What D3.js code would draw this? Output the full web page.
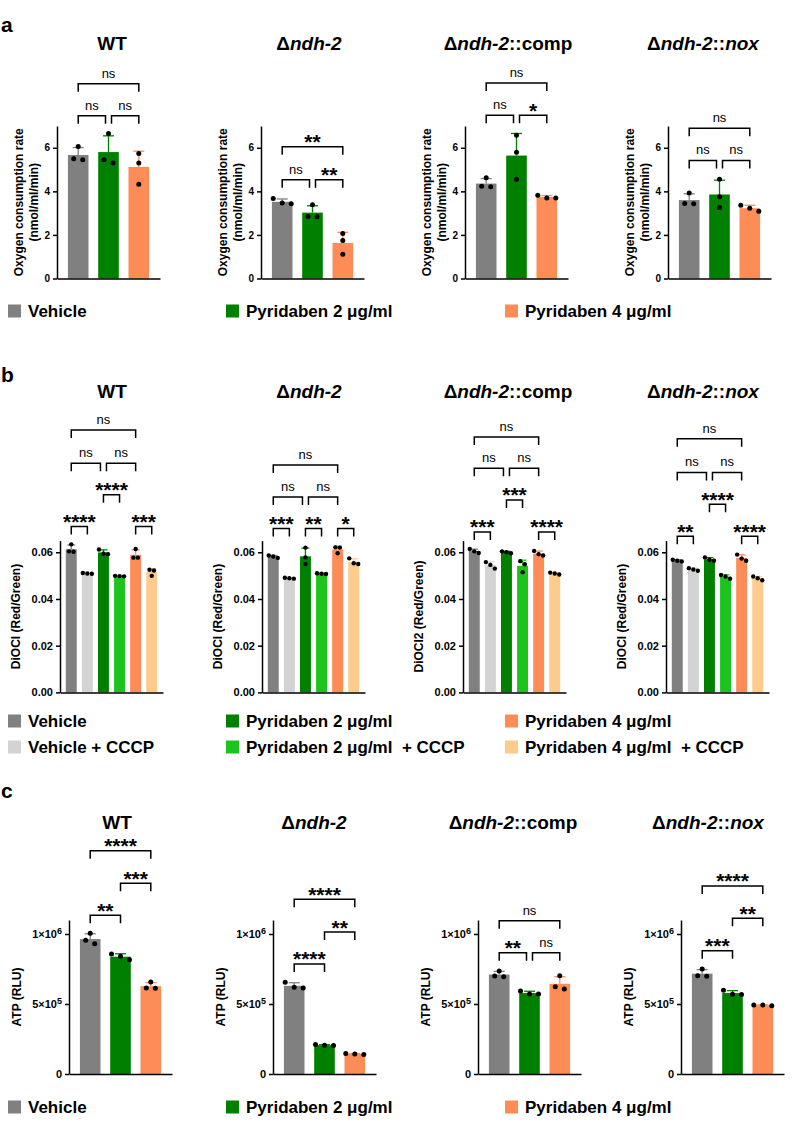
<!DOCTYPE html>
<html>
<head>
<meta charset="utf-8">
<script src="https://cdn.jsdelivr.net/npm/d3@7"></script>
<style>
  body { margin: 0; background: #fff; }
  svg { font-family: "Liberation Sans", Arial, sans-serif; }
</style>
</head>
<body>
<svg id="fig" width="798" height="1135"></svg>
<script>
// ---- data ----
const strainTitles = [
  [["WT", 0]],
  [["\u0394", 0], ["ndh-2", 1]],
  [["\u0394", 0], ["ndh-2", 1], ["::comp", 0]],
  [["\u0394", 0], ["ndh-2", 1], ["::", 0], ["nox", 1]]
];

const treatments3 = ["Vehicle", "Pyridaben 2 \u03bcg/ml", "Pyridaben 4 \u03bcg/ml"];
const colors3 = ["#808080", "#008000", "#fd8c56"];
const treatments6 = ["Vehicle", "Vehicle + CCCP", "Pyridaben 2 \u03bcg/ml", "Pyridaben 2 \u03bcg/ml  + CCCP", "Pyridaben 4 \u03bcg/ml", "Pyridaben 4 \u03bcg/ml  + CCCP"];
const colors6 = ["#808080", "#d3d3d3", "#008000", "#1ec41e", "#fd8c56", "#fecb8d"];

// a: oxygen consumption (nmol/ml/min), 3 replicates per bar
const oxygenPoints = [
  [[6.06, 5.45, 5.50], [6.66, 5.30, 5.45], [5.74, 5.30, 4.33]],
  [[3.67, 3.43, 3.46], [3.39, 2.83, 2.85], [2.06, 1.74, 1.11]],
  [[4.62, 4.21, 4.24], [6.57, 5.80, 4.56], [3.70, 3.82, 3.70]],
  [[3.93, 3.43, 3.44], [4.56, 3.75, 3.26], [3.36, 3.09, 3.23]]
];
const oxygenBrackets = [
  [[0, 2, "ns", 8.94], [0, 1, "ns", 7.47], [1, 2, "ns", 7.47]],
  [[0, 2, "**", 6.05], [0, 1, "ns", 4.53], [1, 2, "**", 4.53]],
  [[0, 2, "ns", 8.97], [0, 1, "ns", 7.49], [1, 2, "*", 7.49]],
  [[0, 2, "ns", 6.90], [0, 1, "ns", 5.42], [1, 2, "ns", 5.42]]
];
const oxygenTicks = [0, 2, 4, 6];

// b: DiOCl red/green ratio
const diocPoints = [
  [[0.0634, 0.0604, 0.0602], [0.0511, 0.0509, 0.0508], [0.0612, 0.0594, 0.0592], [0.0499, 0.0498, 0.0497], [0.0614, 0.0577, 0.0577], [0.0525, 0.0522, 0.0499]],
  [[0.0586, 0.0582, 0.0576], [0.0491, 0.0489, 0.0487], [0.0620, 0.0578, 0.0550], [0.0510, 0.0508, 0.0507], [0.0621, 0.0620, 0.0596], [0.0574, 0.0553, 0.0550]],
  [[0.0614, 0.0604, 0.0597], [0.0558, 0.0546, 0.0530], [0.0604, 0.0600, 0.0596], [0.0562, 0.0549, 0.0515], [0.0606, 0.0592, 0.0586], [0.0513, 0.0509, 0.0505]],
  [[0.0568, 0.0564, 0.0561], [0.0532, 0.0526, 0.0521], [0.0578, 0.0568, 0.0564], [0.0503, 0.0496, 0.0487], [0.0590, 0.0573, 0.0564], [0.0496, 0.0489, 0.0480]]
];
const diocBrackets = [
  [[0, 1, "****", 0.0710], [4, 5, "***", 0.0710], [2, 3, "****", 0.0846], [0, 2, "ns", 0.0981], [2, 4, "ns", 0.0981], [0, 4, "ns", 0.1124]],
  [[0, 1, "***", 0.0702], [2, 3, "**", 0.0702], [4, 5, "*", 0.0702], [0, 2, "ns", 0.0837], [2, 4, "ns", 0.0837], [0, 4, "ns", 0.0974]],
  [[0, 1, "***", 0.0687], [4, 5, "****", 0.0687], [2, 3, "***", 0.0824], [0, 2, "ns", 0.0960], [2, 4, "ns", 0.0960], [0, 4, "ns", 0.1094]],
  [[0, 1, "**", 0.0669], [4, 5, "****", 0.0669], [2, 3, "****", 0.0806], [0, 2, "ns", 0.0942], [2, 4, "ns", 0.0942], [0, 4, "ns", 0.1086]]
];
const diocTicks = [0, 0.02, 0.04, 0.06];
const diocLabels = ["DiOCl (Red/Green)", "DiOCl (Red/Green)", "DiOCl2 (Red/Green)", "DiOCl (Red/Green)"];

// c: ATP (RLU)
const atpPoints = [
  [[1005e3, 931e3, 955e3], [857e3, 816e3, 841e3], [657e3, 612e3, 614e3]],
  [[655e3, 615e3, 620e3], [205e3, 210e3, 203e3], [140e3, 146e3, 143e3]],
  [[736e3, 695e3, 700e3], [593e3, 571e3, 571e3], [702e3, 624e3, 607e3]],
  [[750e3, 698e3, 702e3], [598e3, 567e3, 570e3], [488e3, 493e3, 493e3]]
];
const atpBrackets = [
  [[0, 1, "**", 1.134e6], [1, 2, "***", 1.362e6], [0, 2, "****", 1.595e6]],
  [[0, 1, "****", 0.786e6], [1, 2, "**", 1.014e6], [0, 2, "****", 1.248e6]],
  [[0, 1, "**", 0.866e6], [1, 2, "ns", 0.866e6], [0, 2, "ns", 1.095e6]],
  [[0, 1, "***", 0.881e6], [1, 2, "**", 1.112e6], [0, 2, "****", 1.343e6]]
];
const atpTicks = [0, 5e5, 1e6];
const atpTickLabels = [["0", ""], ["5\u00d710", "5"], ["1\u00d710", "6"]];

// ---- drawing ----
const svg = d3.select("#fig");
const plotW = 103;

function title(parts, x, y) {
  const t = svg.append("text").attr("x", x).attr("y", y)
    .attr("text-anchor", "middle").attr("font-size", 19).attr("font-weight", "bold");
  parts.forEach(p => t.append("tspan").attr("font-style", p[1] ? "italic" : "normal").text(p[0]));
}

function plot(cfg) {
  const g = svg.append("g");
  const n = cfg.points.length;
  const x = d3.scaleBand().domain(d3.range(n)).range([cfg.x0, cfg.x0 + plotW])
    .paddingInner(0.32).paddingOuter(0.36);
  const y = d3.scaleLinear().domain(cfg.domain).range(cfg.yRange);
  const stats = cfg.points.map((pts, i) => ({ i, pts, mean: d3.mean(pts), sd: d3.deviation(pts) }));
  const cx = i => x(i) + x.bandwidth() / 2;

  g.selectAll("rect.bar").data(stats).join("rect").attr("class", "bar")
    .attr("x", d => x(d.i)).attr("width", x.bandwidth())
    .attr("y", d => y(d.mean)).attr("height", d => y(0) - y(d.mean))
    .attr("fill", d => cfg.colors[d.i]);

  // one-sided error bars (mean + SD)
  const eb = g.selectAll("g.eb").data(stats).join("g").attr("class", "eb")
    .attr("stroke", d => cfg.colors[d.i]).attr("stroke-width", 1.3);
  eb.append("line").attr("x1", d => cx(d.i)).attr("x2", d => cx(d.i))
    .attr("y1", d => y(d.mean)).attr("y2", d => y(d.mean + d.sd));
  eb.append("line").attr("x1", d => cx(d.i) - cfg.cap).attr("x2", d => cx(d.i) + cfg.cap)
    .attr("y1", d => y(d.mean + d.sd)).attr("y2", d => y(d.mean + d.sd));

  // replicate dots, spread sideways when they overlap
  stats.forEach(s => {
    const py = s.pts.map(v => y(v)).sort((a, b) => a - b);
    const clusters = [];
    py.forEach(v => {
      const last = clusters[clusters.length - 1];
      if (last && v - last[last.length - 1] < 5) last.push(v); else clusters.push([v]);
    });
    clusters.forEach(c => c.forEach((v, k) => {
      g.append("circle").attr("cx", cx(s.i) + (k - (c.length - 1) / 2) * cfg.spread)
        .attr("cy", v).attr("r", cfg.r).attr("fill", "#000");
    }));
  });

  // axes
  const ax = g.append("g").attr("transform", `translate(${cfg.x0},0)`)
    .call(d3.axisLeft(y).tickValues(cfg.ticks).tickSize(4).tickSizeOuter(0).tickFormat(cfg.fmt));
  ax.selectAll("path,line").attr("stroke", "#000").attr("stroke-width", 1.5);
  ax.selectAll("text").attr("font-size", cfg.tickFont).attr("font-weight", "bold")
    .attr("fill", "#000").attr("font-family", "Liberation Sans, Arial, sans-serif");
  if (cfg.supLabels) {
    ax.selectAll(".tick text").each(function (d, i) {
      const t = d3.select(this).text(null);
      t.append("tspan").text(cfg.supLabels[i][0]);
      if (cfg.supLabels[i][1]) t.append("tspan").attr("dy", -4).attr("font-size", cfg.tickFont - 2).text(cfg.supLabels[i][1]);
    });
  }
  const bx = g.append("g").attr("transform", `translate(0,${y(0)})`)
    .call(d3.axisBottom(d3.scaleLinear().range([cfg.x0, cfg.x0 + plotW])).tickValues([]).tickSizeOuter(0));
  bx.select("path").attr("stroke", "#000").attr("stroke-width", 1.5);

  // y label
  const midY = (cfg.yRange[0] + cfg.yRange[1]) / 2;
  cfg.ylabel.forEach((line, k) => {
    g.append("text").attr("transform", `translate(${cfg.x0 + cfg.ylabelDx[k]},${midY}) rotate(-90)`)
      .attr("text-anchor", "middle").attr("dy", "0.35em").attr("font-size", 12)
      .attr("font-weight", "bold").text(line);
  });

  // significance brackets
  cfg.brackets.forEach(br => {
    const [a, b, label, lvl] = br;
    const shared = k => cfg.brackets.some(o => o !== br && o[3] === lvl && (o[0] === k || o[1] === k));
    const xa = cx(a) + (shared(a) ? 3 : 0);
    const xb = cx(b) - (shared(b) ? 3 : 0);
    const yy = y(lvl);
    g.append("path").attr("d", `M${xa},${yy + 8}V${yy}H${xb}V${yy + 8}`)
      .attr("fill", "none").attr("stroke", "#000").attr("stroke-width", 1.5);
    const isNs = label === "ns";
    g.append("text").attr("x", (xa + xb) / 2).attr("y", isNs ? yy - 6 : yy + 2.5)
      .attr("text-anchor", "middle")
      .attr("font-size", isNs ? 13 : 21).attr("font-weight", isNs ? "normal" : "bold")
      .text(label);
  });
}

function legend(rows, colorRows, ys) {
  const xs = [8, 226, 505];
  rows.forEach((row, r) => row.forEach((lab, k) => {
    svg.append("rect").attr("x", xs[k]).attr("y", ys[r] - 6.5).attr("width", 13).attr("height", 13)
      .attr("fill", colorRows[r][k]);
    svg.append("text").attr("x", xs[k] + 20).attr("y", ys[r] + 6).attr("font-size", 17)
      .attr("font-weight", "bold").style("white-space", "pre").text(lab);
  }));
}

function panelLetter(l, y) {
  svg.append("text").attr("x", 1).attr("y", y).attr("font-size", 21).attr("font-weight", "bold").text(l);
}

// panel a
panelLetter("a", 32);
const axA = [57, 261, 465, 668], titleXab = [112, 309, 508, 703];
oxygenPoints.forEach((pts, s) => {
  title(strainTitles[s], titleXab[s], 50);
  plot({ x0: axA[s], points: pts, colors: colors3, domain: [0, 7], yRange: [278.5, 126],
    ticks: oxygenTicks, tickFont: 10, fmt: d3.format("d"), cap: 5.5, r: 2.5, spread: 9,
    ylabel: ["Oxygen consumption rate", "(nmol/ml/min)"], ylabelDx: [-38, -23],
    brackets: oxygenBrackets[s] });
});
legend([treatments3], [colors3], [311]);

// panel b
panelLetter("b", 382);
const axB = [60, 262, 463, 666];
diocPoints.forEach((pts, s) => {
  title(strainTitles[s], titleXab[s], 398);
  plot({ x0: axB[s], points: pts, colors: colors6, domain: [0, 0.065], yRange: [692.4, 540.6],
    ticks: diocTicks, tickFont: 11, fmt: d3.format(".2f"), cap: 4, r: 2.2, spread: 4.5,
    ylabel: [diocLabels[s]], ylabelDx: [-44],
    brackets: diocBrackets[s] });
});
legend([[treatments6[0], treatments6[2], treatments6[4]], [treatments6[1], treatments6[3], treatments6[5]]],
  [[colors6[0], colors6[2], colors6[4]], [colors6[1], colors6[3], colors6[5]]], [721, 747]);

// panel c
panelLetter("c", 798);
const axC = [69, 273, 478, 681], titleXc = [117, 314, 513, 708];
atpPoints.forEach((pts, s) => {
  title(strainTitles[s], titleXc[s], 829);
  plot({ x0: axC[s], points: pts, colors: colors3, domain: [0, 1.1e6], yRange: [1074, 920],
    ticks: atpTicks, tickFont: 11, fmt: null, supLabels: atpTickLabels, cap: 5.5, r: 2.5, spread: 9,
    ylabel: ["ATP (RLU)"], ylabelDx: [-52],
    brackets: atpBrackets[s] });
});
legend([treatments3], [colors3], [1107]);
</script>
</body>
</html>
